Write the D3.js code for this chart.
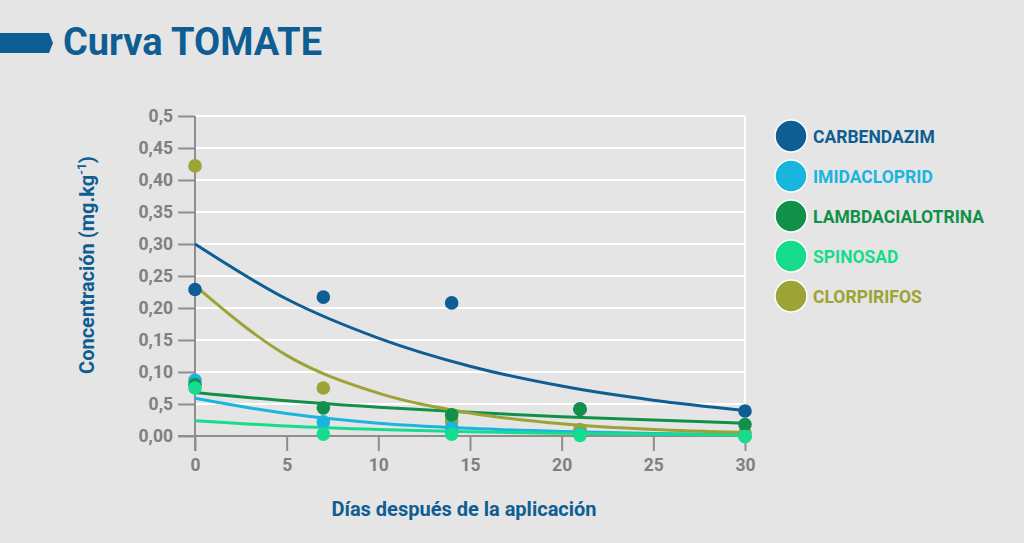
<!DOCTYPE html>
<html><head><meta charset="utf-8">
<script src="https://cdn.jsdelivr.net/npm/d3@7"></script>
<style>
html,body{margin:0;padding:0;background:#e5e5e5;}
svg{display:block;font-family:Roboto,"DejaVu Sans",sans-serif;}
</style></head>
<body><svg id="c" width="1024" height="543"></svg>
<script>
// ---- data ----
const seriesNames = ["CARBENDAZIM","IMIDACLOPRID","LAMBDACIALOTRINA","SPINOSAD","CLORPIRIFOS"];
const seriesColors = ["#0f5e93","#19b5de","#11904a","#17dc8d","#9da334"];
const sampleDays = [0,7,14,21,30];
const carbendazimPts = [0.229,0.217,0.208,0.042,0.039];
const imidaclopridPts = [0.087,0.022,0.013,0.003,0.0];
const lambdaPts = [0.080,0.044,0.033,0.042,0.018];
const spinosadPts = [0.075,0.003,0.003,0.001,-0.001];
const clorpirifosPts = [0.422,0.075,0.023,0.010,0.005];
// fitted curves
const curveDays = [0,5,10,15,20,25,30];
const carbendazimFit = [0.300,0.214,0.153,0.109,0.078,0.056,0.040];
const imidaclopridFit = [0.059,0.035,0.020,0.012,0.007,0.004,0.0025];
const lambdaFit = [0.068,0.055,0.045,0.037,0.030,0.025,0.020];
const spinosadFit = [0.024,0.0155,0.010,0.0065,0.0042,0.0027,0.0017];
const clorpirifosFit = [0.235,0.126,0.067,0.036,0.019,0.010,0.0055];
const yTickValues = [0,0.05,0.10,0.15,0.20,0.25,0.30,0.35,0.40,0.45,0.5];
const yTickLabels = ["0,00","0,5","0,10","0,15","0,20","0,25","0,30","0,35","0,40","0,45","0,5"];
const xTickValues = [0,5,10,15,20,25,30];

const pointsAll = [carbendazimPts,imidaclopridPts,lambdaPts,spinosadPts,clorpirifosPts];
const fitsAll = [carbendazimFit,imidaclopridFit,lambdaFit,spinosadFit,clorpirifosFit];

const svg = d3.select("#c");
const blue = "#0f5e93", gray = "#808080", axisGray = "#8e8e8e";

// title
svg.append("path").attr("d","M0,33 L49,33 L53,43 L49,53 L0,53 Z").attr("fill",blue);
svg.append("text").attr("x",63).attr("y",55).attr("font-size",38).attr("font-weight",700)
  .attr("fill",blue).attr("textLength",259).attr("lengthAdjust","spacingAndGlyphs").text("Curva TOMATE");

const x = d3.scaleLinear().domain([0,30]).range([195,745]);
const y = d3.scaleLinear().domain([0,0.5]).range([436,116]);

// grid
svg.append("g").selectAll("line").data(yTickValues.filter(v=>v>0)).join("line")
  .attr("x1",x(0)).attr("x2",x(30)).attr("y1",d=>y(d)).attr("y2",d=>y(d))
  .attr("stroke","#fff").attr("stroke-width",2);
svg.append("line").attr("x1",x(30)).attr("x2",x(30)).attr("y1",y(0.5)).attr("y2",y(0))
  .attr("stroke","#fff").attr("stroke-width",2);

// axes
const yAxis = d3.axisLeft(y).tickValues(yTickValues).tickFormat((d,i)=>yTickLabels[i]).tickSize(17).tickPadding(5);
const gy = svg.append("g").attr("transform",`translate(${x(0)},0)`).call(yAxis);
const xAxis = d3.axisBottom(x).tickValues(xTickValues).tickSize(15).tickPadding(8);
const gx = svg.append("g").attr("transform",`translate(0,${y(0)})`).call(xAxis);
[gx,gy].forEach(g=>{
  g.select(".domain").remove();
  g.selectAll("line").attr("stroke",axisGray).attr("stroke-width",2);
  g.selectAll("text").attr("fill",gray).attr("font-size",17.5).attr("font-weight",700).attr("font-family","Roboto,sans-serif");
});
svg.append("line").attr("x1",x(0)-17).attr("x2",x(30)).attr("y1",y(0)).attr("y2",y(0)).attr("stroke",axisGray).attr("stroke-width",2);
svg.append("line").attr("x1",x(0)).attr("x2",x(0)).attr("y1",y(0.5)).attr("y2",y(0)+15).attr("stroke",axisGray).attr("stroke-width",2);

// curves
const line = d3.line().x((d,i)=>x(curveDays[i])).y(d=>y(d)).curve(d3.curveMonotoneX);
fitsAll.forEach((f,k)=>{
  svg.append("path").attr("d",line(f)).attr("fill","none").attr("stroke",seriesColors[k]).attr("stroke-width",3);
});
// points
const drawOrder = [0,4,1,2,3];
drawOrder.forEach(k=>{
  svg.append("g").selectAll("circle").data(pointsAll[k]).join("circle")
    .attr("cx",(d,i)=>x(sampleDays[i])).attr("cy",d=>y(d)).attr("r",6.8).attr("fill",seriesColors[k]);
});

// axis titles
svg.append("text").attr("transform","translate(94,265) rotate(-90)").attr("text-anchor","middle")
  .attr("font-size",20).attr("font-weight",700).attr("fill",blue)
  .html('Concentración (mg.kg<tspan dy="-8" font-size="12">-1</tspan><tspan dy="8">)</tspan>');
svg.append("text").attr("x",464).attr("y",516).attr("text-anchor","middle")
  .attr("font-size",20).attr("font-weight",700).attr("fill",blue).text("Días después de la aplicación");

// legend
const lg = svg.append("g").selectAll("g").data(seriesNames).join("g")
  .attr("transform",(d,i)=>`translate(791,${136+i*40})`);
lg.append("circle").attr("r",16).attr("fill",(d,i)=>seriesColors[i]).attr("stroke","#fff").attr("stroke-width",1.5);
lg.append("text").attr("x",22).attr("y",6.5).attr("font-size",17.5).attr("font-weight",700)
  .attr("fill",(d,i)=>seriesColors[i]).text(d=>d);
</script></body></html>
